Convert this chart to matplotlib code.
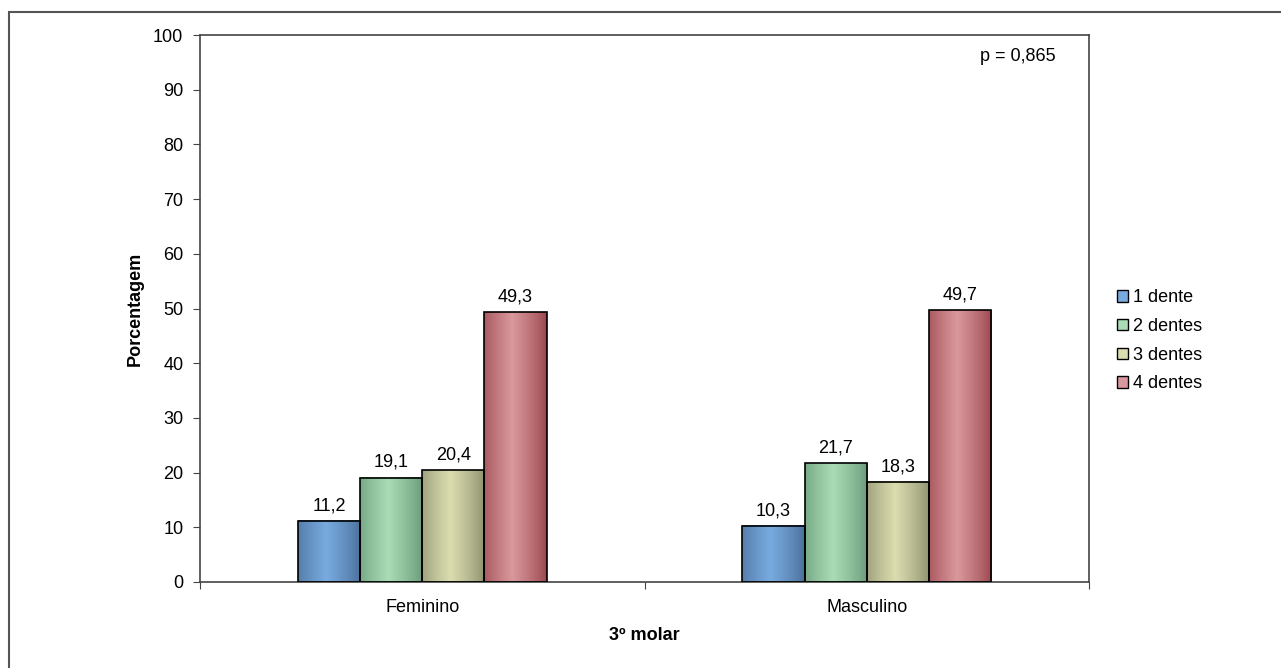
import matplotlib.pyplot as plt
import numpy as np
from matplotlib.patches import Patch, Rectangle
from matplotlib.colors import to_rgb

plt.rcParams['font.family'] = ['Liberation Sans', 'DejaVu Sans']

categories = ['Feminino', 'Masculino']
series = ['1 dente', '2 dentes', '3 dentes', '4 dentes']
values = {
    '1 dente': [11.2, 10.3],
    '2 dentes': [19.1, 21.7],
    '3 dentes': [20.4, 18.3],
    '4 dentes': [49.3, 49.7],
}
# (edge colour, centre colour) of the cylinder-like gradient
colors = {
    '1 dente': ('#4a6e99', '#78abe0'),
    '2 dentes': ('#699878', '#a9ddb5'),
    '3 dentes': ('#8d8f6e', '#dbddaf'),
    '4 dentes': ('#99454b', '#d9989d'),
}
p_text = 'p = 0,865'
fs = 13

fig = plt.figure(figsize=(12.81, 6.68), dpi=100)
ax = fig.add_axes([200 / 1281, 1 - 582 / 668, 889 / 1281, 547 / 668])

# outer frame of the chart
fig.patches.append(Rectangle((9 / 1281, -0.1), 1.2, 1 - 12 / 668 + 0.1,
                             transform=fig.transFigure, fill=False,
                             edgecolor='#555555', linewidth=1.5))

width = 0.14
x = np.arange(len(categories))
t = np.linspace(0, 1, 64)
shade = np.clip(1 - np.abs(t - 0.45) / 0.55, 0, 1) ** 0.8

for i, s in enumerate(series):
    edge, centre = np.array(to_rgb(colors[s][0])), np.array(to_rgb(colors[s][1]))
    grad = edge[None, :] + (centre - edge)[None, :] * shade[:, None]
    grad = grad[None, :, :]
    offs = (i - 1.5) * width
    for xi, v in zip(x, values[s]):
        x0 = xi + offs - width / 2
        ax.imshow(grad, extent=[x0, x0 + width, 0, v], aspect='auto',
                  interpolation='bilinear', zorder=2)
        ax.add_patch(Rectangle((x0, 0), width, v, fill=False,
                               edgecolor='black', linewidth=1.2, zorder=3))
        ax.text(xi + offs, v + 1.2, f'{v:.1f}'.replace('.', ','),
                ha='center', va='bottom', fontsize=fs)

ax.set_xlim(-0.5, 1.5)
ax.set_ylim(0, 100)
ax.set_yticks(range(0, 101, 10))
ax.set_xticks([-0.5, 0.5, 1.5])
ax.set_xticklabels([])
ax.set_xticks(x, minor=True)
ax.set_xticklabels(categories, minor=True)
ax.tick_params(axis='x', which='minor', length=0, pad=12, labelsize=fs)
ax.tick_params(axis='x', which='major', length=5, color='#444444')
ax.tick_params(axis='y', length=5, color='#444444', labelsize=fs, pad=7)
for sp in ax.spines.values():
    sp.set_color('#444444')
    sp.set_linewidth(1.2)

ax.set_ylabel('Porcentagem', fontsize=fs, fontweight='bold', labelpad=7)
ax.set_xlabel('3º molar', fontsize=fs, fontweight='bold', labelpad=8)
ax.text(0.92, 0.96, p_text, transform=ax.transAxes, ha='center', va='center',
        fontsize=fs)

handles = [Patch(facecolor=colors[s][1], edgecolor='black', linewidth=1)
           for s in series]
fig.legend(handles, series, loc='upper left', bbox_to_anchor=(1110 / 1281, 1 - 282 / 668),
           frameon=False, fontsize=fs, handlelength=0.6, handleheight=0.6,
           handletextpad=0.3, labelspacing=0.65, borderaxespad=0)

plt.savefig('out.png', dpi=100)
